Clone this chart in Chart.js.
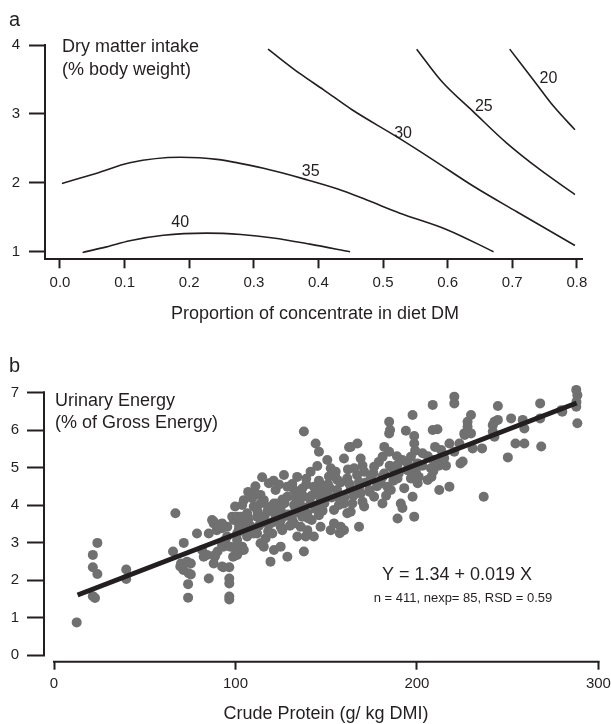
<!DOCTYPE html>
<html>
<head>
<meta charset="utf-8">
<script src="https://cdn.jsdelivr.net/npm/chart.js@4.4.0/dist/chart.umd.min.js"></script>
<style>
  body { margin: 0; background: #fff; width: 611px; height: 724px; overflow: hidden; position: relative; }
  #boxA { position: absolute; left: 0; top: 0; }
  #boxB { position: absolute; left: 0; top: 330px; }
</style>
</head>
<body>
<canvas id="boxA" width="611" height="330"></canvas>
<canvas id="boxB" width="611" height="394"></canvas>
<script>
// ---- panel a : contour lines of dry matter intake ----
const concTicks = [0, 0.1, 0.2, 0.3, 0.4, 0.5, 0.6, 0.7, 0.8];
const dmiTicks = [1, 2, 3, 4];
const contourLevels = ['20', '25', '30', '35', '40'];
const dmi20 = [[0.696,3.94],[0.733,3.49],[0.764,3.11],[0.797,2.77]];
const dmi25 = [[0.552,3.94],[0.591,3.47],[0.640,3.03],[0.691,2.58],[0.743,2.19],[0.797,1.83]];
const dmi30 = [[0.322,3.94],[0.372,3.58],[0.408,3.35],[0.452,3.06],[0.521,2.67],[0.578,2.33],[0.640,1.95],[0.707,1.58],[0.797,1.09]];
const dmi35 = [[0.003,1.99],[0.057,2.14],[0.108,2.29],[0.186,2.37],[0.243,2.34],[0.315,2.21],[0.380,2.05],[0.430,1.91],[0.475,1.75],[0.526,1.56],[0.599,1.32],[0.671,1.00]];
const dmi40 = [[0.035,0.99],[0.072,1.07],[0.108,1.16],[0.160,1.24],[0.227,1.27],[0.280,1.25],[0.330,1.20],[0.387,1.11],[0.449,1.00]];
const labelX = [0.756, 0.656, 0.531, 0.388, 0.186];
const labelY = [3.51, 3.11, 2.72, 2.17, 1.42];

// ---- panel b : urinary energy vs crude protein ----
const cpTicks = [0, 100, 200, 300];
const ueTicks = [0, 1, 2, 3, 4, 5, 6, 7];
const obs = [
  [12.5,0.87],[21.4,1.57],[22.6,1.52],[21.4,2.67],[23.9,2.99],[21.4,2.34],[23.9,2.16],[39.8,2.28],[39.8,2.03],
  [66.9,3.78],[65.6,2.76],[71.5,2.99],[70.0,2.44],[71.3,2.27],[75.4,2.44],[75.4,2.15],[73.9,1.89],[73.9,1.53],[69.6,2.36],[73.3,2.49],[74.2,2.18],
  [78.8,3.24],[82.5,2.62],[85.3,2.04],[88.0,3.56],[88.6,2.62],[88.0,2.44],[90.1,2.76],[89.7,3.33],[93.3,2.34],[95.5,3.42],[94.4,3.07],
  [96.6,2.34],[96.6,2.04],[96.6,1.91],[96.6,1.56],[96.6,1.48],[93.3,2.89],[98.7,2.62],
  [85.3,3.24],[88.0,3.51],[92.6,3.38],[95.4,3.16],[92.6,2.36],[84.3,2.67],[88.9,2.67],[81.6,2.80],[92.6,2.93],[97.2,2.89],[87.1,3.60],[92.6,3.51],[98.2,3.69],[99.1,3.60],
  [99.8,2.84],[102.0,2.76],[99.8,3.96],[100.9,3.69],[104.6,4.13],[101.8,3.33],[100.9,3.07],[104.6,3.51],[103.7,2.89],[106.5,3.69],
  [103.7,4.00],[109.2,4.18],[113.8,4.27],[110.1,3.96],[106.4,3.78],[102.7,3.69],[111.9,3.69],[117.5,3.82],[121.2,4.04],[124.9,3.87],[132.3,4.00],
  [119.3,3.51],[124.9,3.42],[131.3,3.60],[135.9,3.42],[139.6,3.78],[145.1,3.96],[150.6,4.22],[154.3,3.87],[100.9,3.24],[106.4,3.16],[111.9,3.24],
  [104.6,2.80],[100.9,2.67],[115.6,2.89],[121.2,2.80],[124.9,2.89],[119.3,2.49],[128.6,2.62],[137.7,2.76],[113.8,2.98],[146.9,3.42],[152.5,3.33],[154.3,3.51],[143.2,3.16],
  [137.7,5.96],[144.2,5.64],[146.0,5.42],[114.7,4.74],[118.4,4.58],[126.7,4.80],[145.1,5.04],[150.6,5.20],[152.5,4.98],[128.6,4.49],[132.3,4.40],
  [141.4,4.89],[155.2,4.89],[159.8,5.24],[162.6,5.54],[131.3,4.56],[136.8,4.44],[143.2,4.49],[147.8,4.53],[151.5,4.76],[156.1,4.67],[161.6,4.71],
  [111.0,4.31],[115.6,4.13],[122.1,4.40],[123.1,4.04],[128.6,4.22],[137.8,4.22],[141.4,4.04],[146.9,4.13],[150.6,4.31],[156.1,4.22],[159.8,4.04],[163.5,4.40],
  [117.5,3.51],[122.1,3.69],[125.8,3.33],[132.3,3.51],[136.8,3.69],[139.6,3.33],[146.0,3.73],[158.0,3.42],[161.6,3.78],[159.8,3.33],
  [110.1,3.24],[116.6,3.11],[120.3,3.24],[134.1,3.16],[138.7,3.16],[157.5,3.25],
  [108.0,3.45],[114.0,3.55],[127.0,3.70],[133.0,3.85],[142.0,3.60],[148.0,3.85],[118.0,3.95],[126.0,4.15],[135.0,4.10],[144.0,4.30],[152.0,4.45],[157.0,4.00],
  [102.0,3.45],[105.0,3.30],[107.0,3.60],[109.0,3.40],[112.0,3.85],[113.0,3.45],[116.0,3.70],[118.0,3.30],[120.0,3.85],[121.0,3.55],[123.0,3.95],
  [125.0,3.60],[127.0,4.05],[129.0,3.75],[130.0,3.45],[133.0,4.20],[134.0,3.80],[136.0,4.35],[137.0,3.95],[139.0,4.55],[140.0,3.65],[142.0,4.25],
  [144.0,3.90],[146.0,4.65],[147.0,4.35],[149.0,4.05],[151.0,4.55],[153.0,4.20],[155.0,4.75],[156.0,4.40],[158.0,4.60],[160.0,4.20],[162.0,4.95],
  [163.0,4.55],[165.0,4.25],[167.0,4.80],[168.0,4.45],[170.0,5.05],[172.0,4.60],[174.0,4.35],[176.0,4.85],[178.0,4.50],[179.0,5.15],[181.0,4.75],
  [183.0,4.25],[185.0,5.05],[187.0,4.65],[189.0,5.30],[190.0,4.85],[193.0,4.45],[195.0,5.10],[197.0,4.90],[199.0,5.45],[201.0,4.75],[203.0,5.05],
  [206.0,5.30],[208.0,4.75],[210.0,5.55],[214.0,5.20],[216.0,5.05],[107.0,4.35],[111.0,4.50],[114.0,4.05],[121.0,4.65],[124.0,4.55],[134.0,4.75],[139.0,4.70],
  [208.7,6.67],[197.6,6.40],[184.7,6.22],[185.2,6.00],[184.7,5.91],[193.9,5.98],[198.5,5.84],[208.7,6.00],[211.3,6.02],[198.5,5.64],[182.0,5.55],
  [184.7,5.42],[181.1,5.29],[167.2,5.64],[163.5,5.55],[169.0,5.24],[196.7,5.29],[203.1,5.38],[207.7,4.98],[213.3,5.47],[217.9,5.64],[192.0,5.20],
  [194.8,4.93],[200.4,5.11],[199.4,4.89],[189.3,5.07],[176.4,5.02],[170.9,4.89],[165.4,4.98],[181.9,4.84],[186.6,4.98],[174.6,4.76],[168.1,4.62],
  [180.1,4.58],[183.7,4.49],[189.3,4.71],[196.7,4.71],[200.4,4.58],[205.9,4.67],[169.0,4.31],[173.7,4.40],[176.4,4.22],[170.0,4.09],[164.4,4.04],
  [181.0,4.04],[185.6,4.40],[191.1,4.04],[192.0,3.92],[197.6,4.22],[198.5,3.69],[189.3,3.64],[212.3,4.40],[217.9,4.49],[163.5,3.82],[168.1,3.42],[170.9,3.96],
  [209.0,5.20],[212.0,5.05],[215.0,5.25],[209.0,4.90],
  [287.8,7.07],[288.4,6.93],[287.8,6.62],[288.4,6.18],[287.9,6.75],[267.9,6.71],[280.1,6.49],[267.9,6.31],[244.6,6.64],[220.6,6.89],[220.6,6.71],
  [229.8,6.40],[227.9,6.09],[226.1,5.91],[229.8,5.91],[223.4,5.64],[220.6,5.42],[225.2,5.16],[230.7,5.51],[235.9,5.51],[241.8,6.13],[244.6,6.27],
  [242.7,5.82],[241.8,5.96],[251.9,6.31],[258.3,6.27],[259.2,6.04],[259.2,5.64],[268.5,5.56],[250.1,5.27],[236.8,4.22],[227.9,6.22],[224.0,5.11],
  [226.3,5.87],[242.7,6.22],[279.6,6.53],[254.3,5.64]
];
const fitLine = [[13, 1.60], [288, 6.72]];

const fam = '"Liberation Sans", Arial, Helvetica, sans-serif';
const ink = '#231f20';
const dotGrey = '#707070';
Chart.defaults.font.family = fam;
Chart.defaults.color = ink;

const pts = arr => arr.map(p => ({ x: p[0], y: p[1] }));

function axisOpts(min, max, tickVals, tickLen, pad, fmt, fixSize, isX, withBorder) {
  return {
    type: 'linear', min: min, max: max,
    afterBuildTicks: s => { s.ticks = tickVals.map(v => ({ value: v })); },
    ticks: { callback: fmt, font: { size: 15 }, color: ink, padding: pad, autoSkip: false, maxRotation: 0 },
    grid: { display: true, drawOnChartArea: false, drawTicks: true, tickLength: tickLen, tickWidth: 2, tickColor: ink },
    border: { display: withBorder, width: 2, color: ink },
    afterFit: s => {
      if (isX) { s.height = fixSize; s.paddingLeft = 0; s.paddingRight = 0; }
      else { s.width = fixSize; s.paddingTop = 0; s.paddingBottom = 0; }
    }
  };
}

// panel a texts
const textsA = {
  id: 'textsA',
  afterDraw(chart) {
    const { ctx, scales: { x, y } } = chart;
    ctx.save();
    ctx.fillStyle = ink;
    ctx.textBaseline = 'alphabetic';
    ctx.textAlign = 'left';
    ctx.font = '20px ' + fam;
    ctx.fillText('a', 9, 26);
    ctx.font = '18px ' + fam;
    ctx.fillText('Dry matter intake', 62, 52);
    ctx.fillText('(% body weight)', 62, 75);
    ctx.textAlign = 'center';
    ctx.fillText('Proportion of concentrate in diet DM', 315, 319);
    ctx.font = '16px ' + fam;
    ctx.textBaseline = 'middle';
    contourLevels.forEach((lvl, i) => {
      ctx.fillText(lvl, x.getPixelForValue(labelX[i]), y.getPixelForValue(labelY[i]));
    });
    ctx.restore();
  }
};

const lineSet = (d) => ({
  type: 'line', data: pts(d), borderColor: ink, borderWidth: 1.6,
  pointRadius: 0, fill: false, cubicInterpolationMode: 'monotone'
});

new Chart(document.getElementById('boxA'), {
  type: 'scatter',
  data: { datasets: [lineSet(dmi20), lineSet(dmi25), lineSet(dmi30), lineSet(dmi35), lineSet(dmi40)] },
  options: {
    responsive: false, animation: false,
    layout: { padding: { top: 45, right: 28.3, left: 0, bottom: 0 } },
    plugins: { legend: { display: false }, tooltip: { enabled: false } },
    scales: {
      x: axisOpts(-0.0232, 0.809, concTicks, 9, 6, v => v.toFixed(1), 70.7, true, true),
      y: axisOpts(0.89, 4, dmiTicks, 16, 9, v => String(v), 45, false, true)
    }
  },
  plugins: [textsA]
});

// panel b texts and R style axis lines
const textsB = {
  id: 'textsB',
  afterDraw(chart) {
    const { ctx, chartArea, scales: { x, y } } = chart;
    ctx.save();
    ctx.strokeStyle = ink;
    ctx.lineWidth = 2;
    ctx.beginPath();
    ctx.moveTo(x.getPixelForValue(cpTicks[0]) - 1, chartArea.bottom + 1);
    ctx.lineTo(x.getPixelForValue(cpTicks[cpTicks.length - 1]) + 1, chartArea.bottom + 1);
    ctx.moveTo(chartArea.left - 1, y.getPixelForValue(ueTicks[0]) + 1);
    ctx.lineTo(chartArea.left - 1, y.getPixelForValue(ueTicks[ueTicks.length - 1]) - 1);
    ctx.stroke();

    ctx.fillStyle = ink;
    ctx.textBaseline = 'alphabetic';
    ctx.textAlign = 'left';
    ctx.font = '20px ' + fam;
    ctx.fillText('b', 9, 42);
    ctx.font = '18px ' + fam;
    ctx.fillText('Urinary Energy', 55, 76);
    ctx.fillText('(% of Gross Energy)', 55, 98);
    ctx.textAlign = 'center';
    ctx.fillText('Crude Protein (g/ kg DMI)', 326, 389);
    ctx.fillText('Y = 1.34 + 0.019 X', 457, 250);
    ctx.font = '13px ' + fam;
    ctx.fillText('n = 411, nexp= 85, RSD = 0.59', 463, 272);
    ctx.restore();
  }
};

new Chart(document.getElementById('boxB'), {
  type: 'scatter',
  data: {
    datasets: [
      { data: pts(fitLine), showLine: true, borderColor: ink, borderWidth: 5, pointRadius: 0, order: 0 },
      { data: pts(obs), backgroundColor: dotGrey, borderWidth: 0, pointRadius: 5, order: 1 }
    ]
  },
  options: {
    responsive: false, animation: false,
    layout: { padding: { top: 47.5, right: 12.6, left: 0, bottom: 0 } },
    plugins: { legend: { display: false }, tooltip: { enabled: false } },
    scales: {
      x: axisOpts(-4.96, 300, cpTicks, 9, 5, v => String(v), 63.3, true, false),
      y: axisOpts(-0.152, 7.4, ueTicks, 18, 8, v => String(v), 45, false, false)
    }
  },
  plugins: [textsB]
});
</script>
</body>
</html>
